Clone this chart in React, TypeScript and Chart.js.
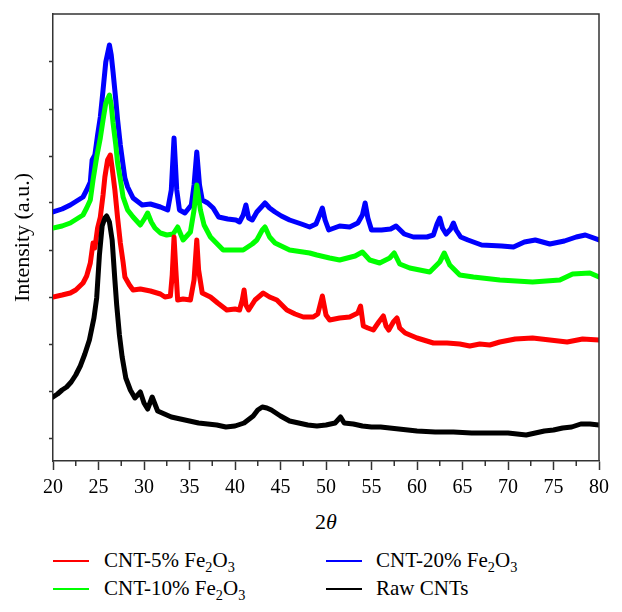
import React, { useEffect, useRef } from "react";
import { Chart, registerables } from "chart.js";

Chart.register(...registerables);

const SERIF = '"Liberation Serif", "DejaVu Serif", serif';
const AXIS_COLOR = "#333333";

// ---- axis ticks ----
const xMajorTicks = [20, 25, 30, 35, 40, 45, 50, 55, 60, 65, 70, 75, 80];
const xMinorTicks = [22.5, 27.5, 32.5, 37.5, 42.5, 47.5, 52.5, 57.5, 62.5, 67.5, 72.5, 77.5];
const yTicks = [0, 47, 94, 141, 188, 235, 282, 329, 376];

// ---- series labels / colours ----
const seriesLabels = ["Raw CNTs", "CNT-5% Fe₂O₃", "CNT-10% Fe₂O₃", "CNT-20% Fe₂O₃"];
const seriesColors = ["#000000", "#ff0000", "#00ff00", "#0000ff"];

// ---- Raw CNTs ----
const rawAngles = [20.0, 20.5, 21.0, 21.5, 22.0, 22.5, 23.0, 23.5, 24.0, 24.5, 24.8, 25.1, 25.4, 25.7, 25.9, 26.2, 26.5, 26.8, 27.0, 27.3, 27.6, 28.0, 28.5, 29.0, 29.6, 30.0, 30.4, 30.9, 31.5, 32.0, 33.0, 34.0, 35.0, 36.0, 37.0, 38.0, 39.0, 40.0, 41.0, 42.0, 42.5, 43.0, 43.5, 44.0, 44.5, 45.0, 46.0, 47.0, 48.0, 49.0, 50.0, 51.0, 51.6, 52.0, 53.0, 54.0, 55.0, 56.0, 57.0, 58.0, 60.0, 62.0, 64.0, 66.0, 68.0, 70.0, 72.0, 73.0, 74.0, 75.0, 76.0, 77.0, 78.0, 79.0, 80.0];
const rawIntensity = [41, 44, 48, 51, 56, 63, 72, 84, 98, 120, 140, 183, 212, 220, 222, 216, 198, 158, 133, 103, 81, 60, 48, 40, 46, 35, 29, 41, 27, 25, 21, 19, 17, 15, 14, 13, 11, 12, 15, 22, 28, 31, 30, 28, 25, 22, 17, 15, 13, 12, 13, 15, 21, 15, 14, 12, 11, 11, 10, 9, 7, 6, 6, 5, 5, 5, 3, 5, 7, 8, 10, 11, 14, 14, 13];

// ---- CNT-5% Fe2O3 ----
const fe5Angles = [20.0, 21.0, 21.9, 22.5, 23.3, 23.7, 24.1, 24.4, 24.6, 24.9, 25.2, 25.5, 25.7, 26.0, 26.3, 26.5, 26.8, 27.1, 27.4, 27.7, 27.9, 28.4, 28.8, 29.6, 30.7, 31.8, 32.3, 32.9, 33.1, 33.3, 33.5, 33.7, 34.3, 35.1, 35.5, 35.8, 36.0, 36.4, 37.3, 38.1, 39.1, 40.0, 40.5, 40.8, 41.0, 41.2, 41.5, 42.2, 43.1, 43.8, 44.6, 45.7, 46.6, 47.5, 48.6, 49.1, 49.6, 50.0, 50.4, 51.5, 52.6, 53.5, 53.8, 54.1, 54.6, 55.2, 55.8, 56.3, 56.6, 56.9, 57.4, 57.8, 58.1, 58.7, 60.0, 61.8, 63.3, 64.7, 65.8, 66.9, 68.0, 69.1, 70.8, 72.7, 74.6, 76.5, 78.2, 80.0];
const fe5Intensity = [141, 143, 145, 148, 155, 162, 175, 195, 190, 210, 221, 243, 261, 278, 283, 270, 248, 220, 195, 176, 161, 153, 148, 149, 147, 144, 141, 142, 163, 201, 168, 138, 139, 138, 158, 198, 168, 145, 141, 135, 128, 129, 128, 138, 148, 133, 128, 138, 145, 141, 138, 128, 124, 121, 121, 124, 142, 123, 118, 120, 121, 125, 132, 112, 110, 108, 116, 122, 112, 108, 116, 120, 110, 105, 100, 95, 95, 94, 92, 94, 93, 96, 99, 100, 98, 96, 99, 98];

// ---- CNT-10% Fe2O3 ----
const fe10Angles = [20.0, 21.0, 21.9, 22.6, 23.3, 23.7, 24.1, 24.4, 24.8, 25.2, 25.5, 25.8, 26.2, 26.4, 26.6, 26.9, 27.1, 27.5, 27.7, 28.2, 28.8, 29.6, 30.1, 30.4, 30.8, 31.2, 31.8, 32.5, 33.2, 33.7, 34.3, 35.1, 35.5, 35.8, 36.2, 36.6, 37.3, 38.7, 40.9, 41.9, 42.4, 43.0, 43.3, 43.8, 44.4, 46.0, 48.2, 49.0, 50.4, 51.5, 53.2, 54.0, 54.8, 55.9, 57.0, 57.5, 58.1, 59.2, 61.4, 62.5, 63.0, 63.6, 64.7, 66.2, 69.1, 72.7, 75.7, 77.1, 79.0, 80.0];
const fe10Intensity = [210, 212, 215, 219, 223, 230, 238, 258, 281, 300, 318, 335, 343, 333, 315, 293, 275, 253, 241, 228, 221, 213, 220, 225, 216, 210, 205, 203, 204, 211, 198, 206, 228, 253, 228, 213, 201, 188, 188, 194, 198, 208, 211, 201, 195, 188, 185, 183, 180, 178, 182, 186, 178, 175, 180, 185, 174, 170, 166, 176, 185, 173, 163, 161, 158, 156, 158, 164, 165, 161];

// ---- CNT-20% Fe2O3 ----
const fe20Angles = [20.0, 21.0, 21.9, 22.6, 23.3, 23.7, 24.1, 24.3, 24.6, 24.9, 25.2, 25.5, 25.8, 26.2, 26.4, 26.6, 26.9, 27.1, 27.4, 27.7, 27.9, 28.2, 28.8, 29.8, 30.7, 31.8, 32.6, 33.0, 33.3, 33.6, 33.9, 34.5, 35.2, 35.5, 35.8, 36.1, 36.4, 37.0, 37.6, 38.2, 39.2, 40.1, 40.5, 40.9, 41.2, 41.5, 41.9, 42.4, 43.0, 43.3, 43.8, 44.4, 45.1, 46.0, 47.3, 48.2, 48.9, 49.3, 49.6, 49.9, 50.3, 51.5, 52.6, 53.5, 54.0, 54.3, 54.6, 55.0, 56.1, 57.1, 57.7, 58.6, 59.6, 61.1, 61.8, 62.2, 62.5, 62.8, 63.2, 63.7, 64.0, 64.3, 64.8, 65.6, 67.1, 69.3, 70.6, 71.8, 73.0, 74.6, 76.2, 77.5, 78.5, 80.0];
const fe20Intensity = [226, 229, 233, 237, 241, 248, 256, 278, 283, 303, 321, 348, 376, 393, 383, 366, 338, 318, 293, 273, 260, 251, 240, 233, 234, 231, 228, 248, 300, 248, 228, 225, 233, 253, 286, 253, 238, 235, 230, 221, 219, 218, 216, 223, 233, 220, 218, 226, 232, 235, 230, 226, 222, 218, 214, 211, 214, 223, 230, 218, 208, 212, 211, 215, 223, 235, 220, 208, 208, 209, 212, 204, 201, 201, 203, 214, 220, 210, 204, 209, 215, 208, 201, 198, 193, 192, 191, 196, 198, 194, 197, 201, 203, 198];

const seriesAngles = [rawAngles, fe5Angles, fe10Angles, fe20Angles];
const seriesIntensity = [rawIntensity, fe5Intensity, fe10Intensity, fe20Intensity];

// legend order (column-wise as in the figure)
const legendOrder = [1, 3, 2, 0];

const SUBS: Record<string, string> = { "₂": "2", "₃": "3" };

function LabelText({ text }: { text: string }) {
  const parts: React.ReactNode[] = [];
  let buf = "";
  Array.from(text).forEach((ch, i) => {
    if (SUBS[ch]) {
      if (buf) parts.push(buf);
      buf = "";
      parts.push(
        <span key={i} style={{ fontSize: "0.68em", position: "relative", top: "0.32em" }}>
          {SUBS[ch]}
        </span>
      );
    } else {
      buf += ch;
    }
  });
  if (buf) parts.push(buf);
  return <>{parts}</>;
}

const framePlugin = {
  id: "frameAndMinorTicks",
  afterDraw(chart: any) {
    const { ctx, chartArea } = chart;
    const { left, right, top, bottom } = chartArea;
    const xs = chart.scales.x;
    ctx.save();
    ctx.strokeStyle = AXIS_COLOR;
    ctx.lineWidth = 1.5;
    ctx.beginPath();
    ctx.moveTo(left, top);
    ctx.lineTo(right, top);
    ctx.lineTo(right, bottom);
    xMinorTicks.forEach((v) => {
      const px = xs.getPixelForValue(v);
      ctx.moveTo(px, bottom);
      ctx.lineTo(px, bottom + 5);
    });
    ctx.stroke();
    ctx.restore();
  },
};

export default function App() {
  const canvasRef = useRef<HTMLCanvasElement | null>(null);

  useEffect(() => {
    if (!canvasRef.current) return;
    const datasets = seriesLabels.map((label, i) => ({
      label,
      data: seriesAngles[i].map((a, j) => ({ x: a, y: seriesIntensity[i][j] })),
      borderColor: seriesColors[i],
      backgroundColor: seriesColors[i],
      borderWidth: 5,
      pointRadius: 0,
      tension: 0,
      fill: false,
      borderJoinStyle: "round" as const,
      borderCapStyle: "round" as const,
    }));

    const chart = new Chart(canvasRef.current, {
      type: "line",
      data: { datasets },
      options: {
        responsive: false,
        animation: false,
        events: [],
        layout: { padding: { top: 14, right: 23, bottom: 0, left: 0 } },
        plugins: { legend: { display: false }, tooltip: { enabled: false } },
        scales: {
          x: {
            type: "linear",
            min: 20,
            max: 80,
            afterBuildTicks: (s: any) => {
              s.ticks = xMajorTicks.map((v) => ({ value: v }));
            },
            afterFit: (s: any) => {
              s.height = 44;
            },
            grid: {
              drawOnChartArea: false,
              drawTicks: true,
              tickLength: 9,
              tickColor: AXIS_COLOR,
              tickWidth: 1.5,
            },
            border: { display: true, color: AXIS_COLOR, width: 1.5 },
            ticks: {
              color: "#000",
              font: { family: SERIF, size: 20 },
              padding: 6,
              maxRotation: 0,
              autoSkip: false,
            },
          },
          y: {
            type: "linear",
            min: -23,
            max: 424,
            afterBuildTicks: (s: any) => {
              s.ticks = yTicks.map((v) => ({ value: v }));
            },
            afterFit: (s: any) => {
              s.width = 53;
            },
            grid: {
              drawOnChartArea: false,
              drawTicks: true,
              tickLength: 4,
              tickColor: AXIS_COLOR,
              tickWidth: 1.5,
            },
            border: { display: true, color: AXIS_COLOR, width: 1.5 },
            ticks: { display: false },
            title: {
              display: true,
              text: "Intensity (a.u.)",
              color: "#000",
              font: { family: SERIF, size: 22 },
              padding: { top: 10, bottom: 0 },
            },
          },
        },
      },
      plugins: [framePlugin],
    });
    return () => chart.destroy();
  }, []);

  const legendPos = [
    { lx: 53, tx: 104, y: 561 },
    { lx: 326, tx: 376, y: 561 },
    { lx: 53, tx: 104, y: 589 },
    { lx: 326, tx: 376, y: 589 },
  ];

  return (
    <div
      style={{
        position: "absolute",
        left: 0,
        top: 0,
        width: 622,
        height: 612,
        background: "#fff",
        overflow: "hidden",
        fontFamily: SERIF,
      }}
    >
      <canvas ref={canvasRef} width={622} height={505} style={{ display: "block" }} />
      <div
        style={{
          position: "absolute",
          left: 276,
          width: 100,
          top: 510,
          textAlign: "center",
          fontSize: 22,
          lineHeight: "24px",
          color: "#000",
        }}
      >
        2<i>θ</i>
      </div>
      {legendOrder.map((si, k) => {
        const p = legendPos[k];
        return (
          <div key={si}>
            <div
              style={{
                position: "absolute",
                left: p.lx,
                top: p.y - 0.75,
                width: 36,
                height: 1.5,
                background: seriesColors[si],
              }}
            />
            <div
              style={{
                position: "absolute",
                left: p.tx,
                top: p.y - 13,
                fontSize: 21,
                lineHeight: "24px",
                whiteSpace: "nowrap",
                color: "#000",
              }}
            >
              <LabelText text={seriesLabels[si]} />
            </div>
          </div>
        );
      })}
    </div>
  );
}
